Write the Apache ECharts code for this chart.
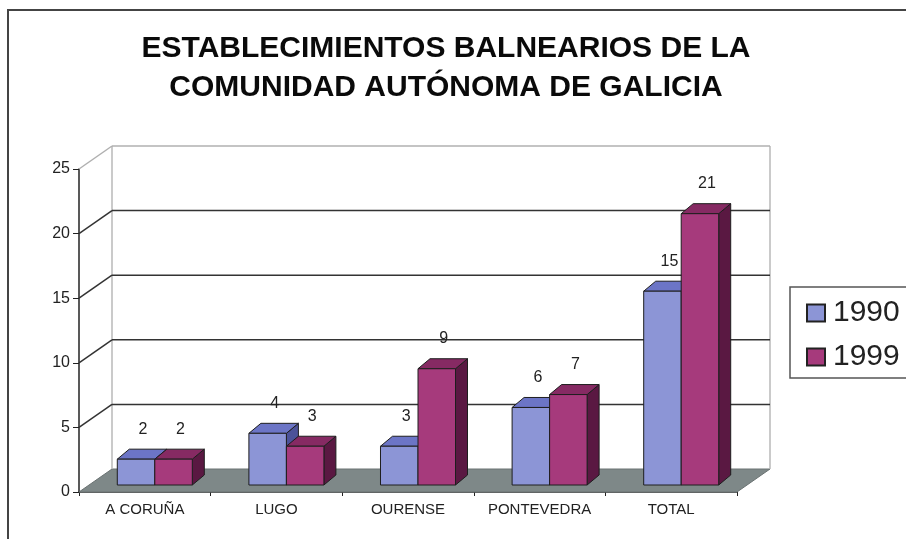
<!DOCTYPE html>
<html>
<head>
<meta charset="utf-8">
<script src="https://cdn.jsdelivr.net/npm/echarts@6/dist/echarts.min.js"></script>
<style>
  html, body { margin: 0; padding: 0; background: #fff; }
  #chart { width: 906px; height: 539px; }
</style>
</head>
<body>
<div id="chart"></div>
<script>
// datos
const categories = ['A CORUÑA', 'LUGO', 'OURENSE', 'PONTEVEDRA', 'TOTAL'];
const years = ['1990', '1999'];
const values1990 = [2, 4, 3, 6, 15];
const values1999 = [2, 3, 9, 7, 21];
const yMin = 0, yMax = 25, yStep = 5;

const FONT = '"Liberation Sans", Arial, sans-serif';
// profundidad del "3D": pared del fondo y barras
const DEPTH = [33, -23];
const BAR_FRONT = [10, -7];
const BAR_DEPTH = [12, -10];
const BAR_FRAC = 0.285;

const palette = [
  { front: '#8c95d6', top: '#6c75c6', side: '#4c5299' },
  { front: '#a63a7c', top: '#862a63', side: '#5a1842' }
];

const chart = echarts.init(document.getElementById('chart'));

// paredes, suelo y lineas de division
function renderFrame(params, api) {
  const cs = params.coordSys;
  const x0 = cs.x, x1 = cs.x + cs.width;
  const y0 = api.coord([0, yMin])[1];
  const yT = api.coord([0, yMax])[1];
  const dx = DEPTH[0], dy = DEPTH[1];
  const children = [];
  children.push({
    type: 'polygon',
    shape: { points: [[x0, y0], [x1, y0], [x1 + dx, y0 + dy], [x0 + dx, y0 + dy]] },
    style: { fill: '#7e8888', stroke: '#6a7272', lineWidth: 1 }
  });
  children.push({ type: 'line', shape: { x1: x0 + dx, y1: y0 + dy, x2: x0 + dx, y2: yT + dy }, style: { stroke: '#b8b8b8', lineWidth: 1.5 } });
  children.push({ type: 'line', shape: { x1: x1 + dx, y1: y0 + dy, x2: x1 + dx, y2: yT + dy }, style: { stroke: '#b8b8b8', lineWidth: 1.5 } });
  for (let v = yMin + yStep; v <= yMax; v += yStep) {
    const y = api.coord([0, v])[1];
    const col = v === yMax ? '#b0b0b0' : '#333';
    children.push({ type: 'line', shape: { x1: x0 + dx, y1: y + dy, x2: x1 + dx, y2: y + dy }, style: { stroke: col, lineWidth: 1.5 } });
    children.push({ type: 'line', shape: { x1: x0, y1: y, x2: x0 + dx, y2: y + dy }, style: { stroke: col, lineWidth: 1.5 } });
  }
  return { type: 'group', children: children };
}

function makeBarRenderer(s) {
  return function (params, api) {
    const i = api.value(0), v = api.value(1);
    const base = api.coord([i, 0]);
    const top = api.coord([i, v]);
    const bw = api.size([1, 0])[0];
    const w = bw * BAR_FRAC;
    const xl = base[0] - w + s * w + BAR_FRONT[0];
    const xr = xl + w;
    const yb = base[1] + BAR_FRONT[1];
    const yt = top[1] + BAR_FRONT[1];
    const dx = BAR_DEPTH[0], dy = BAR_DEPTH[1];
    const c = palette[s];
    const st = { stroke: '#1e1e1e', lineWidth: 1, lineJoin: 'round' };
    return {
      type: 'group',
      children: [
        { type: 'polygon', shape: { points: [[xr, yt], [xr + dx, yt + dy], [xr + dx, yb + dy], [xr, yb]] }, style: Object.assign({ fill: c.side }, st) },
        { type: 'polygon', shape: { points: [[xl, yt], [xr, yt], [xr + dx, yt + dy], [xl + dx, yt + dy]] }, style: Object.assign({ fill: c.top }, st) },
        { type: 'rect', shape: { x: xl, y: yt, width: w, height: yb - yt }, style: Object.assign({ fill: c.front }, st) },
        { type: 'text', style: { text: String(v), x: (xl + xr) / 2 + 7, y: yt - 30, align: 'center', verticalAlign: 'middle', font: '16px ' + FONT, fill: '#222' } }
      ]
    };
  };
}

const option = {
  backgroundColor: '#fff',
  animation: false,
  title: {
    text: 'ESTABLECIMIENTOS BALNEARIOS DE LA\nCOMUNIDAD AUTÓNOMA DE GALICIA',
    left: 441,
    top: 24,
    textAlign: 'center',
    textStyle: { fontFamily: FONT, fontSize: 30, fontWeight: 'bold', color: '#0a0a0a', lineHeight: 39 }
  },
  legend: {
    data: years,
    orient: 'vertical',
    left: 801,
    top: 293,
    itemWidth: 18,
    itemHeight: 17,
    itemGap: 14,
    icon: 'rect',
    textStyle: { fontFamily: FONT, fontSize: 30, color: '#222', padding: [0, 0, 0, 3] }
  },
  graphic: [
    { type: 'rect', shape: { x: 8, y: 10, width: 940, height: 580 }, style: { fill: 'none', stroke: '#444', lineWidth: 2 }, silent: true },
    { type: 'rect', shape: { x: 790, y: 287, width: 140, height: 91 }, style: { fill: 'none', stroke: '#555', lineWidth: 1.5 }, silent: true }
  ],
  grid: { left: 79, right: 169, top: 169, bottom: 47 },
  xAxis: {
    type: 'category',
    data: categories,
    axisLine: { lineStyle: { color: '#222', width: 1.5 } },
    axisTick: { show: true, interval: 0, length: 4, lineStyle: { color: '#222' } },
    axisLabel: { interval: 0, fontFamily: FONT, fontSize: 15, color: '#222', margin: 10 },
    splitLine: { show: false }
  },
  yAxis: {
    type: 'value',
    min: yMin,
    max: yMax,
    interval: yStep,
    axisLine: { show: true, lineStyle: { color: '#222', width: 1.5 } },
    axisTick: { show: true, length: 6, lineStyle: { color: '#222' } },
    axisLabel: { fontFamily: FONT, fontSize: 16, color: '#222', margin: 9 },
    splitLine: { show: false }
  },
  series: [
    {
      name: 'frame',
      type: 'custom',
      z: 1,
      silent: true,
      renderItem: renderFrame,
      data: [[0, 0]]
    },
    {
      name: years[0],
      type: 'custom',
      z: 3,
      itemStyle: { color: palette[0].front, borderColor: '#222', borderWidth: 1 },
      renderItem: makeBarRenderer(0),
      data: values1990.map((v, i) => [i, v])
    },
    {
      name: years[1],
      type: 'custom',
      z: 4,
      itemStyle: { color: palette[1].front, borderColor: '#222', borderWidth: 1 },
      renderItem: makeBarRenderer(1),
      data: values1999.map((v, i) => [i, v])
    }
  ]
};

chart.setOption(option);
</script>
</body>
</html>
